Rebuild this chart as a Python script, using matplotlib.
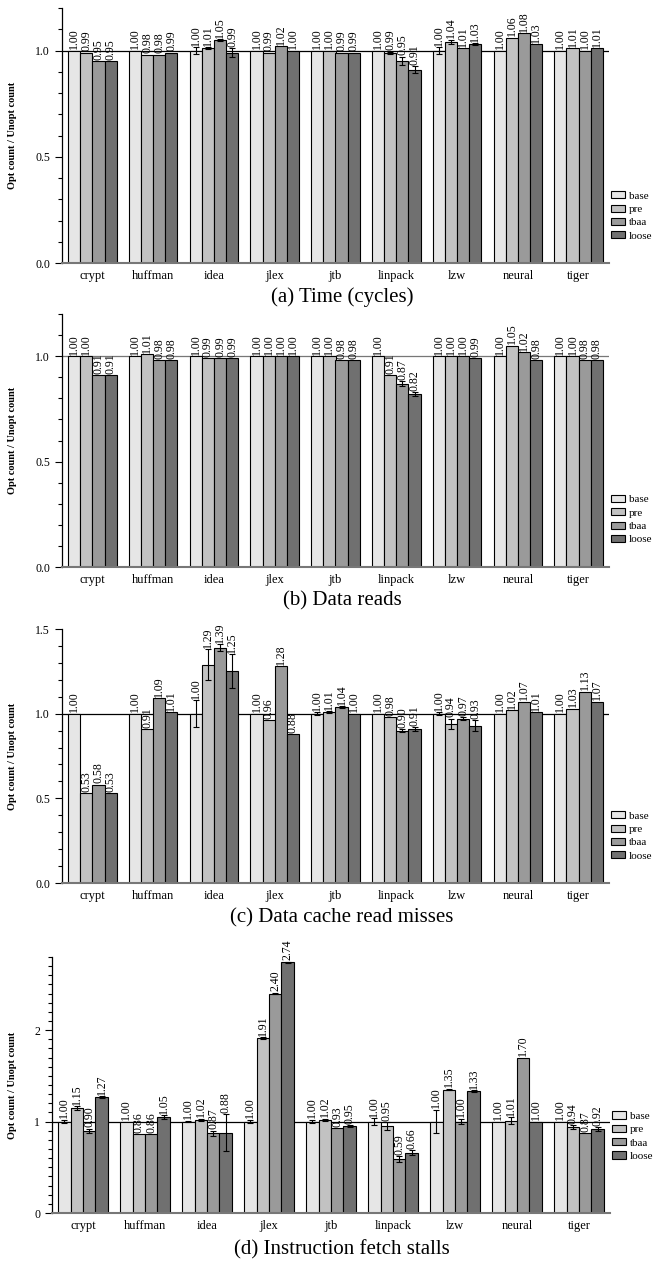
import matplotlib
matplotlib.use("Agg")
import matplotlib.pyplot as plt
from matplotlib.patches import Patch
from matplotlib.ticker import MultipleLocator, FormatStrFormatter
import numpy as np

plt.rcParams["font.family"] = ["Liberation Serif", "DejaVu Serif"]

benchmarks = ["crypt", "huffman", "idea", "jlex", "jtb", "linpack", "lzw", "neural", "tiger"]
configs = ["base", "pre", "tbaa", "loose"]
colors = ["#e6e6e6", "#c2c2c2", "#9a9a9a", "#707070"]

# one row per benchmark, columns follow configs
time_vals = [
    [1.00, 0.99, 0.95, 0.95],
    [1.00, 0.98, 0.98, 0.99],
    [1.00, 1.01, 1.05, 0.99],
    [1.00, 0.99, 1.02, 1.00],
    [1.00, 1.00, 0.99, 0.99],
    [1.00, 0.99, 0.95, 0.91],
    [1.00, 1.04, 1.01, 1.03],
    [1.00, 1.06, 1.08, 1.03],
    [1.00, 1.01, 1.00, 1.01],
]
time_err = [
    [0, 0, 0, 0],
    [0, 0, 0, 0],
    [0.015, 0.005, 0.004, 0.02],
    [0, 0, 0, 0],
    [0, 0, 0, 0],
    [0, 0.005, 0.02, 0.015],
    [0.015, 0.01, 0, 0.005],
    [0, 0, 0, 0],
    [0, 0, 0, 0],
]

reads_vals = [
    [1.00, 1.00, 0.91, 0.91],
    [1.00, 1.01, 0.98, 0.98],
    [1.00, 0.99, 0.99, 0.99],
    [1.00, 1.00, 1.00, 1.00],
    [1.00, 1.00, 0.98, 0.98],
    [1.00, 0.91, 0.87, 0.82],
    [1.00, 1.00, 1.00, 0.99],
    [1.00, 1.05, 1.02, 0.98],
    [1.00, 1.00, 0.98, 0.98],
]
reads_err = [
    [0, 0, 0, 0],
    [0, 0, 0, 0],
    [0, 0, 0, 0],
    [0, 0, 0, 0],
    [0, 0, 0, 0],
    [0, 0, 0.01, 0.01],
    [0, 0, 0, 0],
    [0, 0, 0, 0],
    [0, 0, 0, 0],
]

misses_vals = [
    [1.00, 0.53, 0.58, 0.53],
    [1.00, 0.91, 1.09, 1.01],
    [1.00, 1.29, 1.39, 1.25],
    [1.00, 0.96, 1.28, 0.88],
    [1.00, 1.01, 1.04, 1.00],
    [1.00, 0.98, 0.90, 0.91],
    [1.00, 0.94, 0.97, 0.93],
    [1.00, 1.02, 1.07, 1.01],
    [1.00, 1.03, 1.13, 1.07],
]
misses_err = [
    [0, 0, 0, 0],
    [0, 0, 0, 0],
    [0.08, 0.09, 0.02, 0.1],
    [0, 0, 0, 0],
    [0.01, 0.005, 0.005, 0],
    [0, 0, 0.01, 0.01],
    [0.01, 0.03, 0.01, 0.03],
    [0, 0, 0, 0],
    [0, 0, 0, 0],
]

stalls_vals = [
    [1.00, 1.15, 0.90, 1.27],
    [1.00, 0.86, 0.86, 1.05],
    [1.00, 1.02, 0.87, 0.88],
    [1.00, 1.91, 2.40, 2.74],
    [1.00, 1.02, 0.93, 0.95],
    [1.00, 0.95, 0.59, 0.66],
    [1.00, 1.35, 1.00, 1.33],
    [1.00, 1.01, 1.70, 1.00],
    [1.00, 0.94, 0.87, 0.92],
]
stalls_err = [
    [0.02, 0.02, 0.02, 0.01],
    [0, 0, 0, 0.02],
    [0.01, 0.01, 0.03, 0.2],
    [0.02, 0.01, 0.01, 0.01],
    [0.02, 0.01, 0, 0.01],
    [0.04, 0.04, 0.03, 0.03],
    [0.13, 0.01, 0.03, 0.01],
    [0, 0.04, 0, 0],
    [0, 0.02, 0, 0.02],
]

panels = [
    dict(vals=time_vals, err=time_err, caption="(a) Time (cycles)", ymax=1.2,
         major=0.5, fmt="%.1f", rect=(62, 8, 609, 263), cap_y=297, leg_y=0.184, ref="black"),
    dict(vals=reads_vals, err=reads_err, caption="(b) Data reads", ymax=1.2,
         major=0.5, fmt="%.1f", rect=(62, 314, 609, 567), cap_y=601, leg_y=0.187, ref="#777777"),
    dict(vals=misses_vals, err=misses_err, caption="(c) Data cache read misses", ymax=1.5,
         major=0.5, fmt="%.1f", rect=(62, 629, 609, 883), cap_y=918, leg_y=0.185, ref="black"),
    dict(vals=stalls_vals, err=stalls_err, caption="(d) Instruction fetch stalls", ymax=2.8,
         major=1.0, fmt="%d", rect=(52, 957, 610, 1213), cap_y=1250, leg_y=0.30, ref="black"),
]

W, H = 667, 1267
fig = plt.figure(figsize=(W / 100, H / 100), dpi=100)

x = np.arange(len(benchmarks))
width = 0.2

for p in panels:
    x0, y0, x1, y1 = p["rect"]
    ax = fig.add_axes([x0 / W, 1 - y1 / H, (x1 - x0) / W, (y1 - y0) / H])
    vals = np.array(p["vals"])
    errs = np.array(p["err"])

    for j, cfg in enumerate(configs):
        xs = x + (j - 1.5) * width
        ax.bar(xs, vals[:, j], width, color=colors[j], edgecolor="black",
               linewidth=0.8, zorder=2)
        has_err = errs[:, j] > 0
        if has_err.any():
            ax.errorbar(xs[has_err], vals[has_err, j], yerr=errs[has_err, j],
                        fmt="none", ecolor="black", elinewidth=0.8, capsize=2.5,
                        capthick=0.8, zorder=3)
        for xi, v, e in zip(xs, vals[:, j], errs[:, j]):
            ax.annotate(f"{v:.2f}", (xi, v + e), xytext=(0, 1), textcoords="offset points",
                        rotation=90, ha="center", va="bottom", fontsize=8.5, zorder=4)

    ax.axhline(1.0, color=p["ref"], linewidth=0.9, zorder=1)

    ax.set_xlim(-0.5, len(benchmarks) - 0.5)
    ax.set_ylim(0, p["ymax"])
    ax.set_xticks(x)
    ax.set_xticklabels(benchmarks, fontsize=9)
    ax.tick_params(axis="x", length=0, pad=5)
    ax.yaxis.set_major_locator(MultipleLocator(p["major"]))
    ax.yaxis.set_minor_locator(MultipleLocator(0.1))
    ax.yaxis.set_major_formatter(FormatStrFormatter(p["fmt"]))
    ax.tick_params(axis="y", which="major", direction="out", length=5, width=0.8, labelsize=8.5)
    ax.tick_params(axis="y", which="minor", direction="out", length=3, width=0.8)

    for side in ("top", "right"):
        ax.spines[side].set_visible(False)
    ax.spines["left"].set_linewidth(0.9)
    ax.spines["bottom"].set_color("#777777")
    ax.spines["bottom"].set_linewidth(1.5)

    ax.set_ylabel("Opt count / Unopt count", fontsize=7.5, fontweight="bold")
    ax.yaxis.set_label_coords((17 - x0) / (x1 - x0), 0.5)

    handles = [Patch(facecolor=c, edgecolor="black", linewidth=0.8) for c in colors]
    ax.legend(handles, configs, loc="center left", bbox_to_anchor=(1.0, p["leg_y"]),
              frameon=False, fontsize=8, handlelength=1.2, handleheight=0.6,
              handletextpad=0.4, labelspacing=0.35, borderaxespad=0.2, borderpad=0)

    fig.text(342 / W, 1 - p["cap_y"] / H, p["caption"], ha="center", va="center", fontsize=15)

fig.savefig("out.png", dpi=100)
